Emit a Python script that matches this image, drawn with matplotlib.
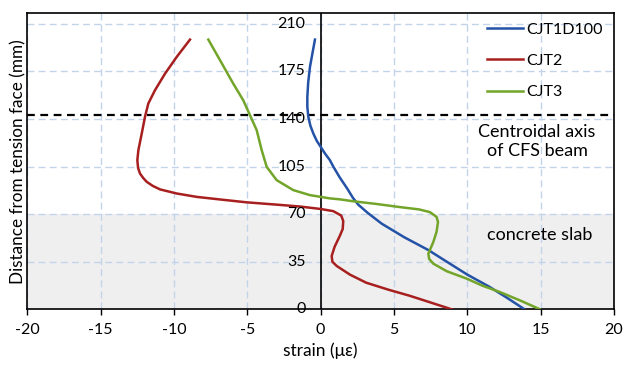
import numpy as np
import matplotlib.pyplot as plt

plt.rcParams['font.family'] = ['Lato', 'DejaVu Sans']
plt.rcParams['axes.unicode_minus'] = False

# strain (με) vs distance from tension face (mm)
cjt1_strain = [-0.39, -0.55, -0.73, -0.85, -0.91, -0.91, -0.84, -0.7, -0.5, -0.27, 0.0, 0.3,
               0.63, 0.86, 1.3, 1.8, 2.2, 2.56, 3.2, 4.16, 5.7, 7.34, 8.6, 10.0, 11.5,
               12.7, 13.9]
cjt1_height = [198.4, 189, 178.3, 167, 156.2, 149, 141.5, 135, 129.3, 124, 119.5, 114.5,
               109.7, 105, 97, 89, 82, 77, 71, 63, 53, 43.6, 35, 25.5, 16.6,
               8.5, 0]

cjt2_strain = [-8.91, -9.82, -10.61, -11.30, -11.75, -11.98, -12.2, -12.43, -12.5, -12.45,
               -12.32, -12.1, -11.86, -11.45, -10.95, -9.82, -8.45, -6.86, -5.05, -3.0, -1.4,
               0.0, 0.86, 1.4, 1.54, 1.5, 1.3, 0.95, 0.75, 0.8, 1.09, 2.0, 3.1, 4.6, 6.09,
               7.5, 8.93]
cjt2_height = [198.4, 185.6, 173.4, 161.1, 151.4, 141.5, 129.3, 117, 109.7, 104,
               99.9, 96.6, 93.8, 90.8, 88.2, 85.2, 82.7, 80.8, 78.7, 77, 75.6,
               73.8, 72.2, 69, 64.9, 59, 53.9, 46, 39.2, 35, 31.9, 25.5, 19.6, 14.5, 9.9,
               5, 0]

cjt3_strain = [-7.66, -6.86, -5.96, -5.28, -4.82, -4.36, -4.02, -3.68, -3.0, -1.87, -0.73,
               0.63, 1.3, 2.2, 3.8, 5.4, 6.7, 7.45, 7.9, 8.0, 7.9, 7.68, 7.34, 7.4, 7.68,
               8.6, 9.95, 11.0, 12.2, 13.6, 14.95]
cjt3_height = [198.4, 183.2, 166, 153.8, 142.8, 131.7, 117, 104.8, 95, 87.7, 84,
               81.6, 80.9, 79.5, 77.5, 75.2, 73.5, 71.5, 68, 64.2, 57, 49.5, 40.9, 37, 33.6,
               28, 22.6, 17.5, 12.8, 6.5, 0]

labels = ['CJT1D100', 'CJT2', 'CJT3']
colors = ['#2352A6', '#A81F1F', '#72A52A']

y_ticks = [0, 35, 70, 105, 140, 175, 210]
x_ticks = [-20, -15, -10, -5, 0, 5, 10, 15, 20]
slab_top = 70
centroid = 143

fig = plt.figure(figsize=(6.24, 3.70), dpi=100)
ax = fig.add_axes([0.0438, 0.164, 0.9402, 0.801])

ax.set_xlim(-20, 20)
ax.set_ylim(0, 218)

# concrete slab zone
ax.axhspan(0, slab_top, color='#efefef', zorder=0, lw=0)

ax.set_xticks(x_ticks)
ax.set_yticks(y_ticks)
ax.grid(True, color='#c3d4ea', linestyle=(0, (5, 3)), linewidth=1)
ax.set_axisbelow(True)

ax.plot(cjt1_strain, cjt1_height, color=colors[0], lw=1.8, label=labels[0], zorder=3)
ax.plot(cjt2_strain, cjt2_height, color=colors[1], lw=1.8, label=labels[1], zorder=3)
ax.plot(cjt3_strain, cjt3_height, color=colors[2], lw=1.8, label=labels[2], zorder=3)

ax.axvline(0, color='black', lw=1.2, zorder=2)
ax.axhline(centroid, color='black', lw=1.6, linestyle=(0, (3.5, 2.5)), zorder=2, clip_on=False)

# y labels sit next to the zero axis
ax.tick_params(axis='y', length=0, labelleft=False)
for v in y_ticks:
    ax.annotate(str(v), xy=(0, v), xytext=(-11, 0), textcoords='offset points',
                ha='right', va='center', fontsize=11.5)
ax.tick_params(axis='x', direction='out', length=4, width=1, labelsize=11.5, pad=6)

for s in ax.spines.values():
    s.set_color('black')
    s.set_linewidth(1.2)

ax.set_xlabel('strain (με)', fontsize=12.5, labelpad=4)
ax.set_ylabel('Distance from tension face (mm)', fontsize=12.3, labelpad=1)

ax.text(14.75, 123.5, 'Centroidal axis\nof CFS beam', ha='center', va='center',
        fontsize=13, linespacing=1.2)
ax.text(14.95, 54.6, 'concrete slab', ha='center', va='center', fontsize=13)

ax.legend(loc='upper left', bbox_to_anchor=(0.783, 0.968), frameon=False, fontsize=11.5,
          handlelength=2.3, handletextpad=0.15, labelspacing=1.08, borderpad=0,
          borderaxespad=0)

fig.savefig('out.png', dpi=100)
